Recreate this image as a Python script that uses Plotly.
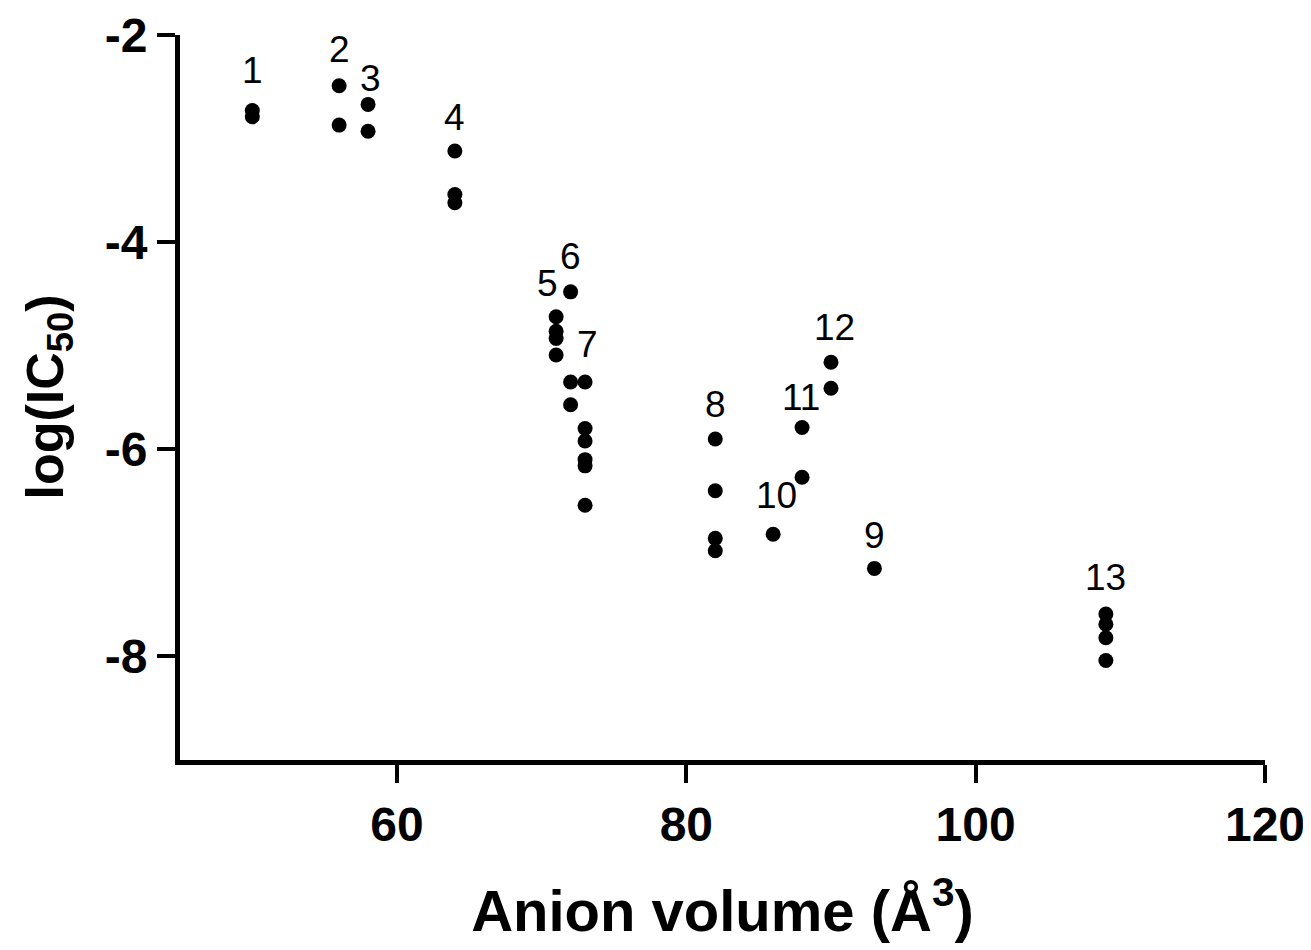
import pandas as pd
import plotly.graph_objects as go

# compound number, anion volume (A^3) and log(IC50) for each measurement
compound = [1, 1, 2, 2, 3, 3, 4, 4, 4,
            5, 5, 5, 5, 6, 6, 6,
            7, 7, 7, 7, 7, 7,
            8, 8, 8, 8, 9, 10, 11, 11, 12, 12,
            13, 13, 13, 13]
volume = [50, 50, 56, 56, 58, 58, 64, 64, 64,
          71, 71, 71, 71, 72, 72, 72,
          73, 73, 73, 73, 73, 73,
          82, 82, 82, 82, 93, 86, 88, 88, 90, 90,
          109, 109, 109, 109]
log_ic50 = [-2.73, -2.79, -2.49, -2.87, -2.67, -2.93, -3.12, -3.54, -3.62,
            -4.72, -4.86, -4.93, -5.09, -4.48, -5.35, -5.57,
            -5.35, -5.80, -5.92, -6.10, -6.16, -6.54,
            -5.90, -6.40, -6.86, -6.98, -7.15, -6.82, -5.79, -6.27, -5.16, -5.41,
            -7.59, -7.69, -7.82, -8.04]

x_ticks = [60, 80, 100, 120]
y_ticks = [-2, -4, -6, -8]
y_ticktext = ["-2", "-4", "-6", "-8"]

df = pd.DataFrame({"compound": compound, "volume": volume, "log_ic50": log_ic50})

# small pixel nudges for the compound labels
label_shift = {1: (0, 40), 2: (0, 36), 3: (2, 26), 4: (0, 34), 5: (-9, 33),
               6: (0, 35), 7: (2, 37), 8: (0, 34), 9: (0, 33), 10: (3, 39),
               11: (-1, 30), 12: (3, 35), 13: (0, 36)}

fig = go.Figure()

fig.add_trace(
    go.Scatter(
        x=df["volume"],
        y=df["log_ic50"],
        mode="markers",
        marker=dict(size=15, color="black"),
        showlegend=False,
    )
)

tops = df.groupby("compound").agg(volume=("volume", "first"), top=("log_ic50", "max"))
for num, row in tops.iterrows():
    dx, dy = label_shift[num]
    fig.add_annotation(
        x=row["volume"], y=row["top"], text=str(num), showarrow=False,
        xshift=dx, yshift=dy,
        font=dict(family="Arial, Liberation Sans", size=37, color="black"),
    )

# y-axis title as a rotated annotation so it can sit further left
fig.add_annotation(
    x=0, y=0.5, xref="paper", yref="paper", xanchor="center", yanchor="middle",
    xshift=-132, textangle=-90, showarrow=False,
    text="<b>log(IC<sub>50</sub>)</b>",
    font=dict(family="Arial, Liberation Sans", size=52, color="black"),
)

axis_font = dict(family="Arial, Liberation Sans", size=48, color="black", weight="bold")

# the page body adds an 8px margin, so the figure is a bit smaller than the window
fig.update_layout(
    width=1303,
    height=942,
    paper_bgcolor="white",
    plot_bgcolor="white",
    margin=dict(l=172, r=46, t=27, b=190, autoexpand=False),
    font=dict(family="Arial, Liberation Sans", color="black"),
    xaxis=dict(
        range=[45, 120],
        tickvals=x_ticks,
        showgrid=False, zeroline=False,
        showline=True, linewidth=5, linecolor="black",
        ticks="outside", ticklen=18, tickwidth=4, tickcolor="black",
        tickfont=axis_font,
        title=dict(text="<b>Anion volume (Å<sup>3</sup>)</b>",
                   font=dict(family="Arial, Liberation Sans", size=58, color="black"),
                   standoff=42),
    ),
    yaxis=dict(
        range=[-9, -2],
        tickvals=y_ticks,
        ticktext=y_ticktext,
        showgrid=False, zeroline=False,
        showline=True, linewidth=5, linecolor="black",
        ticks="outside", ticklen=18, tickwidth=4, tickcolor="black",
        tickfont=axis_font,
    ),
)

fig.write_html("out.html")
